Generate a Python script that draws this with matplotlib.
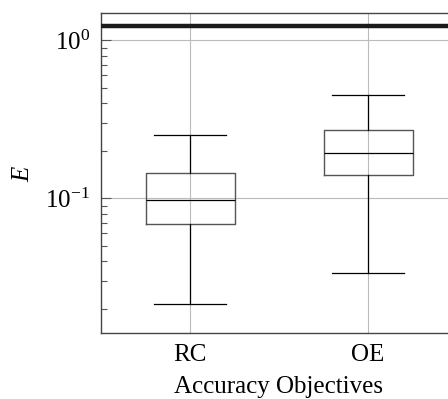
import matplotlib
matplotlib.use('Agg')
import matplotlib.pyplot as plt
from matplotlib.ticker import LogLocator, NullFormatter

# data (log scale)
categories = ["RC", "OE"]
whislo = [0.0213, 0.0335]
q1 = [0.0685, 0.140]
med = [0.097, 0.193]
q3 = [0.144, 0.271]
whishi = [0.251, 0.453]
ref_level = 1.24

plt.rcParams['font.family'] = ['Liberation Serif']
plt.rcParams['mathtext.fontset'] = 'custom'
plt.rcParams['mathtext.rm'] = 'Liberation Serif'
plt.rcParams['mathtext.it'] = 'Liberation Serif:italic'
plt.rcParams['mathtext.bf'] = 'Liberation Serif:bold'

fig = plt.figure(figsize=(4.48, 3.99), dpi=100)
ax = fig.add_axes([101 / 448, 1 - 333 / 399, 356 / 448, 320 / 399])

stats = []
for i, name in enumerate(categories):
    stats.append(dict(label=name, whislo=whislo[i], q1=q1[i], med=med[i],
                      q3=q3[i], whishi=whishi[i], fliers=[]))

ax.bxp(stats, positions=[0, 1], widths=0.5, showfliers=False,
       boxprops=dict(color='#555555', linewidth=1.0),
       medianprops=dict(color='black', linewidth=0.9),
       whiskerprops=dict(color='black', linewidth=0.9),
       capprops=dict(color='black', linewidth=0.9),
       capwidths=0.4, zorder=3)

ax.axhline(ref_level, color='#1a1a1a', linewidth=3.2, zorder=4)

ax.set_yscale('log')
ax.set_ylim(0.01403, 1.49)
ax.set_xlim(-0.5, 1.5)
ax.set_xticks([0, 1])
ax.set_xticklabels(categories)
ax.yaxis.set_major_locator(LogLocator(base=10, numticks=10))
ax.yaxis.set_minor_locator(LogLocator(base=10, subs=range(2, 10), numticks=10))
ax.yaxis.set_minor_formatter(NullFormatter())

ax.grid(True, which='major', color='#bbbbbb', linewidth=0.8, zorder=0)
ax.set_axisbelow(True)
ax.tick_params(axis='y', which='major', direction='in', length=7, width=0.8,
               color='#555555', labelsize=18, pad=8)
ax.tick_params(axis='y', which='minor', direction='in', length=4, width=0.8,
               color='#555555')
ax.tick_params(axis='x', which='both', length=0, labelsize=18, pad=8)
for sp in ax.spines.values():
    sp.set_color('#444444')
    sp.set_linewidth(1.0)

ax.set_ylabel('$E$', fontsize=18, labelpad=8)
ax.set_xlabel('Accuracy Objectives', fontsize=18, labelpad=7)

fig.savefig('out.png', dpi=100)
